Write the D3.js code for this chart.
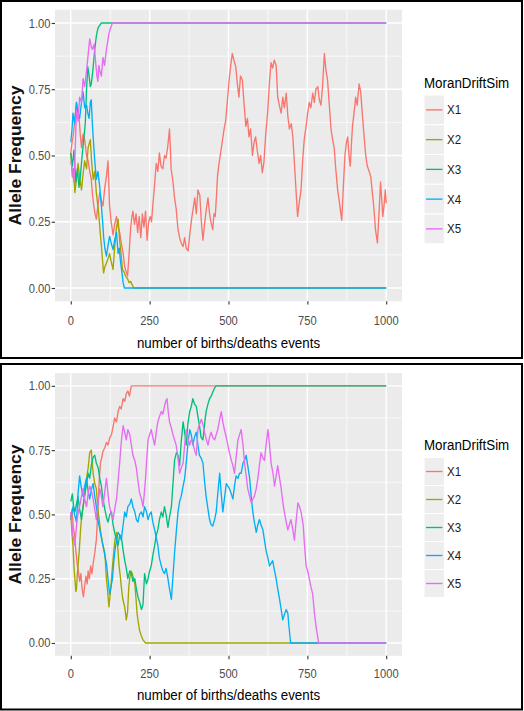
<!DOCTYPE html>
<html><head><meta charset="utf-8">
<script src="https://cdn.jsdelivr.net/npm/d3@7"></script>
<style>html,body{margin:0;padding:0;background:#fff;}svg{display:block;}</style>
</head><body>
<svg id="c" width="524" height="711"></svg>
<script>
// ---------- DATA ----------
const seriesNames = ["X1","X2","X3","X4","X5"];
const seriesColors = ["#F8766D","#A3A500","#00BF7D","#00B0F6","#E76BF3"];
const legendTitle = "MoranDriftSim";
const xTitle = "number of births/deaths events";
const yTitle = "Allele Frequency";
const xTicks = [0,250,500,750,1000];
const xMinor = [125,375,625,875];
const yTicks = [0,0.25,0.5,0.75,1];
const yMinor = [0.125,0.375,0.625,0.875];

// Top simulation
const top_X1 = [[0,0.51],[4,0.55],[7,0.57],[12,0.62],[18,0.70],[22,0.66],[26,0.65],[30,0.58],[34,0.53],[39,0.58],[44,0.56],[50,0.50],[55,0.48],[60,0.44],[65,0.41],[69,0.35],[73,0.31],[77,0.28],[81,0.26],[86,0.31],[92,0.36],[97,0.33],[102,0.31],[108,0.38],[113,0.42],[118,0.48],[121,0.38],[123,0.31],[128,0.25],[134,0.20],[139,0.24],[145,0.27],[150,0.23],[155,0.21],[160,0.17],[166,0.13],[171,0.08],[176,0.06],[180,0.045],[185,0.13],[190,0.23],[194,0.27],[197,0.29],[202,0.24],[207,0.28],[212,0.21],[217,0.27],[222,0.19],[227,0.28],[232,0.23],[237,0.29],[242,0.18],[247,0.25],[252,0.27],[256,0.25],[260,0.31],[265,0.38],[271,0.47],[276,0.44],[281,0.51],[286,0.46],[292,0.45],[297,0.50],[302,0.49],[307,0.53],[313,0.60],[316,0.52],[318,0.45],[324,0.40],[329,0.34],[334,0.30],[340,0.22],[345,0.19],[350,0.17],[356,0.156],[361,0.19],[366,0.15],[372,0.14],[377,0.20],[383,0.26],[388,0.30],[393,0.34],[398,0.28],[403,0.37],[409,0.35],[414,0.25],[419,0.18],[424,0.24],[430,0.30],[435,0.34],[440,0.28],[445,0.245],[450,0.22],[454,0.28],[458,0.27],[462,0.35],[465,0.42],[470,0.47],[475,0.51],[480,0.55],[486,0.60],[491,0.63],[496,0.70],[502,0.785],[507,0.84],[512,0.885],[517,0.86],[523,0.835],[528,0.77],[533,0.72],[538,0.80],[544,0.785],[549,0.70],[555,0.61],[560,0.64],[565,0.57],[570,0.60],[576,0.50],[581,0.55],[586,0.57],[591,0.52],[597,0.47],[602,0.50],[607,0.435],[612,0.47],[618,0.58],[624,0.66],[630,0.78],[635,0.85],[640,0.83],[645,0.86],[651,0.84],[656,0.72],[661,0.69],[667,0.66],[672,0.72],[677,0.68],[683,0.735],[688,0.65],[693,0.60],[699,0.62],[704,0.57],[709,0.47],[714,0.37],[719,0.27],[724,0.32],[730,0.37],[735,0.48],[740,0.56],[746,0.61],[751,0.66],[756,0.70],[761,0.68],[767,0.735],[772,0.70],[777,0.75],[783,0.76],[788,0.71],[793,0.69],[798,0.76],[804,0.885],[809,0.82],[814,0.785],[819,0.70],[825,0.60],[830,0.56],[835,0.53],[840,0.45],[846,0.37],[851,0.33],[855,0.29],[859,0.256],[864,0.38],[869,0.50],[874,0.55],[878,0.57],[882,0.50],[886,0.46],[890,0.55],[893,0.61],[898,0.66],[903,0.72],[908,0.69],[914,0.77],[919,0.74],[924,0.66],[930,0.57],[935,0.50],[940,0.46],[946,0.44],[951,0.42],[956,0.36],[961,0.30],[966,0.22],[972,0.17],[977,0.28],[982,0.40],[986,0.33],[989,0.27],[993,0.31],[997,0.37],[1000,0.32]];
const top_X2 = [[0,0.51],[5,0.42],[9,0.45],[13,0.36],[18,0.41],[23,0.47],[28,0.42],[34,0.37],[39,0.43],[44,0.48],[50,0.45],[55,0.53],[62,0.56],[66,0.48],[71,0.41],[76,0.44],[81,0.36],[86,0.31],[90,0.26],[94,0.20],[97,0.16],[101,0.10],[104,0.057],[108,0.08],[113,0.094],[118,0.11],[123,0.13],[128,0.10],[134,0.07],[139,0.15],[145,0.23],[150,0.26],[155,0.18],[160,0.12],[164,0.07],[169,0.06],[174,0.044],[180,0.035],[185,0.02],[190,0.025],[197,0.006],[200,0],[1000,0]];
const top_X3 = [[0,0.51],[5,0.46],[10,0.52],[16,0.40],[21,0.45],[26,0.38],[31,0.43],[36,0.50],[41,0.56],[46,0.62],[50,0.75],[54,0.835],[58,0.80],[62,0.76],[65,0.77],[70,0.82],[76,0.90],[81,0.95],[86,0.98],[91,0.99],[97,1.0],[1000,1.0]];
const top_X4 = [[0,0.55],[4,0.60],[7,0.66],[12,0.62],[18,0.70],[23,0.66],[28,0.64],[34,0.70],[39,0.74],[44,0.68],[50,0.69],[54,0.66],[58,0.64],[62,0.70],[65,0.71],[68,0.63],[71,0.57],[76,0.48],[81,0.41],[86,0.44],[92,0.38],[97,0.31],[101,0.25],[104,0.195],[108,0.15],[113,0.12],[118,0.16],[123,0.195],[128,0.17],[134,0.145],[139,0.18],[145,0.21],[150,0.13],[154,0.15],[157,0.107],[162,0.06],[166,0.02],[170,0],[1000,0]];
const top_X5 = [[0,0.48],[5,0.44],[10,0.40],[14,0.52],[18,0.67],[23,0.63],[28,0.72],[34,0.70],[39,0.79],[44,0.76],[50,0.82],[55,0.88],[60,0.94],[65,0.91],[69,0.90],[74,0.92],[79,0.85],[83,0.80],[86,0.78],[89,0.84],[92,0.82],[97,0.80],[102,0.87],[107,0.84],[113,0.90],[117,0.93],[121,0.96],[126,0.98],[132,1.0],[1000,1.0]];

// Bottom simulation
const bot_X1 = [[0,0.48],[4,0.52],[8,0.45],[12,0.42],[16,0.36],[20,0.31],[24,0.28],[28,0.24],[32,0.27],[36,0.21],[40,0.18],[44,0.22],[48,0.26],[52,0.23],[55,0.28],[59,0.25],[63,0.30],[67,0.27],[71,0.31],[76,0.35],[81,0.40],[86,0.52],[90,0.63],[94,0.70],[98,0.72],[102,0.745],[108,0.76],[113,0.78],[118,0.77],[124,0.80],[129,0.81],[134,0.84],[139,0.875],[145,0.86],[150,0.90],[155,0.92],[160,0.91],[166,0.95],[171,0.94],[176,0.97],[181,0.98],[186,0.96],[192,1.0],[1000,1.0]];
const bot_X2 = [[0,0.50],[4,0.42],[7,0.38],[10,0.30],[13,0.25],[16,0.20],[18,0.21],[21,0.27],[23,0.30],[27,0.36],[31,0.44],[35,0.50],[39,0.53],[44,0.58],[50,0.64],[55,0.68],[60,0.74],[65,0.75],[68,0.70],[71,0.66],[76,0.62],[81,0.60],[86,0.52],[90,0.48],[94,0.44],[97,0.415],[102,0.38],[108,0.35],[113,0.25],[117,0.20],[121,0.14],[125,0.19],[129,0.25],[133,0.31],[136,0.35],[140,0.40],[145,0.43],[149,0.37],[153,0.30],[157,0.26],[160,0.22],[165,0.17],[171,0.14],[176,0.09],[180,0.12],[184,0.22],[187,0.25],[191,0.28],[195,0.27],[199,0.25],[203,0.23],[207,0.17],[210,0.116],[214,0.08],[218,0.05],[223,0.03],[229,0.012],[237,0],[1000,0]];
const bot_X3 = [[0,0.55],[5,0.58],[9,0.53],[13,0.51],[18,0.54],[23,0.57],[28,0.52],[34,0.48],[39,0.53],[44,0.57],[50,0.62],[55,0.66],[60,0.64],[65,0.69],[70,0.72],[76,0.73],[81,0.70],[87,0.68],[92,0.64],[97,0.61],[102,0.56],[108,0.52],[113,0.49],[118,0.47],[124,0.50],[129,0.51],[134,0.46],[139,0.43],[145,0.40],[150,0.38],[155,0.42],[160,0.415],[166,0.36],[171,0.32],[176,0.29],[181,0.25],[187,0.28],[192,0.27],[197,0.24],[203,0.25],[208,0.21],[213,0.18],[218,0.16],[224,0.13],[229,0.15],[234,0.27],[240,0.23],[245,0.25],[250,0.28],[255,0.30],[260,0.34],[266,0.38],[271,0.42],[276,0.44],[281,0.48],[287,0.51],[292,0.49],[297,0.53],[302,0.50],[308,0.45],[313,0.49],[319,0.53],[324,0.62],[329,0.71],[335,0.74],[340,0.73],[345,0.69],[350,0.78],[356,0.86],[361,0.82],[366,0.77],[371,0.85],[377,0.90],[382,0.92],[387,0.95],[392,0.93],[398,0.92],[403,0.88],[408,0.845],[413,0.80],[419,0.79],[424,0.85],[429,0.90],[435,0.93],[440,0.95],[445,0.96],[450,0.975],[455,0.99],[461,1.0],[1000,1.0]];
const bot_X4 = [[0,0.48],[4,0.51],[7,0.53],[12,0.50],[18,0.47],[23,0.58],[28,0.65],[34,0.60],[39,0.57],[44,0.61],[50,0.64],[55,0.59],[60,0.56],[66,0.60],[71,0.62],[76,0.57],[81,0.53],[86,0.48],[92,0.44],[97,0.41],[102,0.38],[108,0.34],[113,0.31],[118,0.25],[123,0.19],[128,0.22],[132,0.25],[136,0.31],[139,0.35],[145,0.40],[150,0.43],[155,0.42],[160,0.40],[166,0.46],[171,0.51],[176,0.49],[181,0.53],[187,0.54],[192,0.56],[197,0.53],[203,0.51],[208,0.48],[213,0.47],[218,0.50],[224,0.51],[229,0.49],[234,0.53],[240,0.51],[245,0.48],[250,0.50],[255,0.51],[260,0.47],[266,0.44],[271,0.41],[276,0.38],[281,0.33],[287,0.30],[292,0.28],[297,0.27],[302,0.29],[308,0.25],[313,0.21],[319,0.17],[324,0.26],[329,0.35],[335,0.44],[340,0.51],[345,0.55],[350,0.57],[356,0.61],[361,0.64],[366,0.70],[371,0.77],[377,0.83],[382,0.81],[387,0.77],[392,0.80],[398,0.82],[403,0.77],[408,0.73],[413,0.72],[419,0.70],[424,0.63],[429,0.57],[435,0.52],[440,0.48],[445,0.46],[450,0.455],[456,0.48],[461,0.51],[466,0.58],[472,0.66],[477,0.58],[482,0.51],[487,0.56],[493,0.62],[498,0.61],[503,0.60],[509,0.58],[514,0.56],[519,0.61],[524,0.65],[530,0.64],[535,0.66],[540,0.66],[546,0.70],[551,0.71],[556,0.73],[561,0.69],[567,0.64],[572,0.57],[577,0.51],[582,0.47],[588,0.43],[593,0.46],[598,0.48],[603,0.46],[609,0.44],[614,0.40],[619,0.36],[625,0.33],[630,0.30],[635,0.31],[640,0.32],[646,0.28],[651,0.25],[656,0.21],[662,0.17],[667,0.13],[672,0.09],[677,0.11],[683,0.13],[688,0.116],[692,0.06],[697,0],[1000,0]];
const bot_X5 = [[0,0.51],[4,0.46],[7,0.415],[10,0.40],[13,0.38],[17,0.44],[20,0.48],[24,0.51],[28,0.53],[34,0.57],[39,0.60],[44,0.56],[50,0.53],[55,0.58],[60,0.61],[66,0.59],[71,0.56],[76,0.52],[81,0.48],[87,0.55],[92,0.60],[97,0.57],[102,0.53],[108,0.59],[113,0.64],[118,0.58],[123,0.53],[129,0.50],[134,0.48],[139,0.52],[145,0.56],[150,0.63],[155,0.70],[160,0.78],[166,0.845],[171,0.82],[176,0.79],[181,0.83],[187,0.81],[192,0.77],[197,0.73],[203,0.71],[208,0.68],[213,0.63],[218,0.585],[224,0.56],[229,0.53],[233,0.58],[237,0.64],[241,0.72],[245,0.79],[250,0.81],[255,0.83],[260,0.80],[266,0.77],[271,0.82],[276,0.86],[281,0.88],[287,0.90],[292,0.89],[297,0.92],[301,0.94],[305,0.95],[309,0.90],[313,0.86],[318,0.84],[324,0.81],[329,0.79],[334,0.77],[340,0.72],[345,0.66],[350,0.68],[356,0.70],[361,0.77],[366,0.83],[371,0.80],[377,0.77],[382,0.79],[387,0.78],[392,0.75],[398,0.73],[403,0.83],[408,0.85],[414,0.87],[419,0.85],[424,0.82],[430,0.79],[435,0.77],[440,0.80],[445,0.82],[450,0.80],[456,0.79],[461,0.81],[466,0.83],[472,0.87],[477,0.90],[482,0.86],[487,0.83],[493,0.80],[498,0.77],[503,0.74],[509,0.71],[514,0.69],[519,0.66],[524,0.72],[530,0.79],[535,0.81],[540,0.83],[546,0.77],[551,0.70],[556,0.65],[561,0.60],[567,0.57],[572,0.545],[577,0.56],[582,0.57],[588,0.60],[593,0.64],[598,0.69],[603,0.74],[609,0.72],[614,0.71],[619,0.77],[625,0.83],[630,0.77],[635,0.70],[641,0.66],[646,0.61],[651,0.65],[656,0.69],[662,0.64],[667,0.60],[672,0.55],[677,0.51],[683,0.47],[688,0.44],[693,0.46],[698,0.48],[704,0.44],[709,0.40],[714,0.47],[720,0.545],[725,0.53],[730,0.51],[734,0.48],[737,0.455],[741,0.38],[746,0.30],[751,0.28],[756,0.25],[761,0.22],[767,0.19],[772,0.12],[778,0.06],[782,0.03],[786,0],[1000,0]];

const topSeries = [top_X1, top_X2, top_X3, top_X4, top_X5];
const botSeries = [bot_X1, bot_X2, bot_X3, bot_X4, bot_X5];

// ---------- DRAW ----------
const svg = d3.select("#c");
const SQ = 0.89;
const FONT = "'Liberation Sans', Arial, sans-serif";

function txt(g, x, y, s, size, anchor, fill, weight) {
  return g.append("text")
    .attr("transform", `translate(${x},${y}) scale(${SQ},1)`)
    .attr("text-anchor", anchor).attr("font-family", FONT)
    .attr("font-size", size).attr("fill", fill)
    .attr("font-weight", weight || "normal").text(s);
}

function drawPanel(series, L) {
  const g = svg.append("g");
  g.append("rect").attr("x", L.bx).attr("y", L.by).attr("width", L.bw).attr("height", L.bh)
    .attr("fill", "#fff").attr("stroke", "#000").attr("stroke-width", 2);

  const x = d3.scaleLinear().domain([-50, 1050]).range([55, 402]);
  const y = d3.scaleLinear().domain([-0.05, 1.05]).range([L.pb, L.pt]);

  g.append("rect").attr("x", 55).attr("y", L.pt).attr("width", 347).attr("height", L.pb - L.pt).attr("fill", "#EBEBEB");

  // minor grid
  g.selectAll(".gxm").data(xMinor).enter().append("line")
    .attr("x1", d => x(d)).attr("x2", d => x(d)).attr("y1", L.pt).attr("y2", L.pb)
    .attr("stroke", "#fff").attr("stroke-width", 0.7);
  g.selectAll(".gym").data(yMinor).enter().append("line")
    .attr("y1", d => y(d)).attr("y2", d => y(d)).attr("x1", 55).attr("x2", 402)
    .attr("stroke", "#fff").attr("stroke-width", 0.7);
  // major grid
  g.selectAll(".gx").data(xTicks).enter().append("line")
    .attr("x1", d => x(d)).attr("x2", d => x(d)).attr("y1", L.pt).attr("y2", L.pb)
    .attr("stroke", "#fff").attr("stroke-width", 1.4);
  g.selectAll(".gy").data(yTicks).enter().append("line")
    .attr("y1", d => y(d)).attr("y2", d => y(d)).attr("x1", 55).attr("x2", 402)
    .attr("stroke", "#fff").attr("stroke-width", 1.4);

  // axes
  const xa = g.append("g").attr("transform", `translate(0,${L.pb})`)
    .call(d3.axisBottom(x).tickValues(xTicks).tickSize(3.3).tickFormat(""));
  const ya = g.append("g").attr("transform", `translate(55,0)`)
    .call(d3.axisLeft(y).tickValues(yTicks).tickSize(3.3).tickFormat(""));
  [xa, ya].forEach(a => { a.select(".domain").remove(); a.selectAll("line").attr("stroke", "#333").attr("stroke-width", 1.1); });

  xTicks.forEach(t => txt(g, x(t), L.xl, d3.format("d")(t), 12.5, "middle", "#4D4D4D"));
  yTicks.forEach(t => txt(g, 50.5, y(t) + 4.5, d3.format(".2f")(t), 12.5, "end", "#4D4D4D"));

  txt(g, 228.5, L.xt, xTitle, 15, "middle", "#000");
  g.append("text")
    .attr("transform", `translate(20.5,${(L.pt + L.pb) / 2}) rotate(-90) scale(1,${SQ})`)
    .attr("text-anchor", "middle").attr("font-family", FONT)
    .attr("font-size", 17.5).attr("font-weight", "bold").attr("fill", "#111").text(yTitle);

  // lines
  const line = d3.line().x(d => x(d[0])).y(d => y(d[1]));
  series.forEach((s, i) => {
    g.append("path").datum(s).attr("d", line).attr("fill", "none")
      .attr("stroke", seriesColors[i]).attr("stroke-width", 1.35).attr("stroke-linejoin", "round");
  });

  // legend
  txt(g, 424, L.lt, legendTitle, 15, "start", "#000");
  seriesNames.forEach((n, i) => {
    const ky = L.kt + i * L.kh;
    g.append("rect").attr("x", 424).attr("y", ky).attr("width", 20.5).attr("height", L.kh)
      .attr("fill", "#EEEEEE").attr("stroke", "#fff").attr("stroke-width", 1);
    g.append("line").attr("x1", 426).attr("x2", 442.5).attr("y1", ky + L.kh / 2).attr("y2", ky + L.kh / 2)
      .attr("stroke", seriesColors[i]).attr("stroke-width", 1.35);
    txt(g, 447, ky + L.kh / 2 + 4.5, n, 13, "start", "#1a1a1a");
  });
}

drawPanel(topSeries, {bx:1, by:1, bw:521, bh:357, pt:9.75, pb:301.25, xl:325, xt:348, lt:88, kt:95, kh:29.75});
drawPanel(botSeries, {bx:1, by:364, bw:521, bh:345.5, pt:373, pb:655.85, xl:678, xt:700, lt:450, kt:457.5, kh:28});
</script>
</body></html>
